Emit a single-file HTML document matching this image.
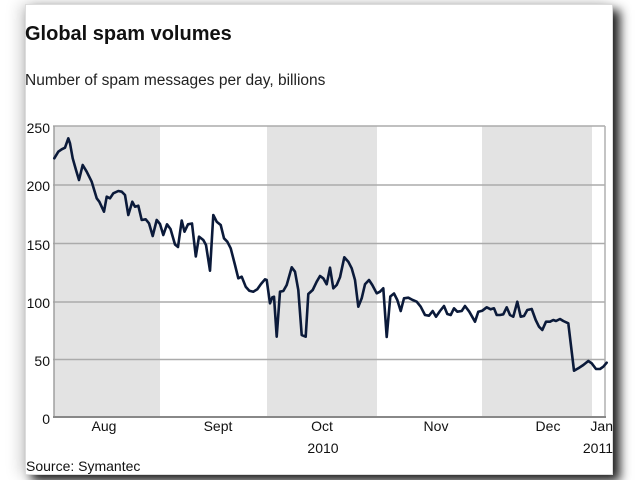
<!DOCTYPE html>
<html>
<head>
<meta charset="utf-8">
<style>
  html, body { margin:0; padding:0; width:640px; height:480px; overflow:hidden; background:#ffffff; }
  .card {
    position:absolute; left:25px; top:4px; width:588px; height:471px;
    background:#ffffff; border:1px solid #dcdcdc; box-sizing:border-box;
    box-shadow: 7px 6px 10px rgba(0,0,0,0.88), -5px 0 14px rgba(0,0,0,0.18);
  }
  svg { position:absolute; left:0; top:0; }
  text { font-family:"Liberation Sans", Arial, sans-serif; }
</style>
</head>
<body>
<div class="card"></div>
<svg width="640" height="480" viewBox="0 0 640 480" xmlns="http://www.w3.org/2000/svg">
  <!-- Title & subtitle -->
  <text x="25" y="40" font-size="20" font-weight="bold" fill="#111">Global spam volumes</text>
  <text x="25" y="85" font-size="15.5" fill="#222">Number of spam messages per day, billions</text>

  <!-- Month bands -->
  <rect x="54" y="126" width="106" height="291" fill="#e3e3e3"/>
  <rect x="267" y="126" width="110" height="291" fill="#e3e3e3"/>
  <rect x="482" y="126" width="110" height="291" fill="#e3e3e3"/>

  <!-- Gridlines -->
  <g stroke="#ababab" stroke-width="1.5">
    <line x1="53" y1="126" x2="605" y2="126"/>
    <line x1="53" y1="185" x2="605" y2="185"/>
    <line x1="53" y1="243.5" x2="605" y2="243.5"/>
    <line x1="53" y1="302" x2="605" y2="302"/>
    <line x1="53" y1="359.5" x2="605" y2="359.5"/>
  </g>
  <line x1="54" y1="126" x2="54" y2="418" stroke="#a0a0a0" stroke-width="1.5"/>
  <line x1="605" y1="126" x2="605" y2="418" stroke="#b0b0b0" stroke-width="1.5"/>
  <line x1="53" y1="417" x2="606" y2="417" stroke="#888" stroke-width="2"/>

  <!-- Y labels -->
  <g font-size="14" fill="#111" text-anchor="end">
    <text x="50" y="133">250</text>
    <text x="50" y="191">200</text>
    <text x="50" y="250">150</text>
    <text x="50" y="308">100</text>
    <text x="50" y="366">50</text>
    <text x="50" y="424">0</text>
  </g>

  <!-- X labels -->
  <g font-size="14" fill="#111" text-anchor="middle">
    <text x="104" y="431">Aug</text>
    <text x="218" y="431">Sept</text>
    <text x="322" y="431">Oct</text>
    <text x="436" y="431">Nov</text>
    <text x="548" y="431">Dec</text>
    <text x="613" y="431" text-anchor="end">Jan</text>
    <text x="323" y="453">2010</text>
    <text x="613" y="453" text-anchor="end">2011</text>
  </g>
  <text x="26" y="471" font-size="14" fill="#111">Source: Symantec</text>

  <!-- Series -->
  <polyline fill="none" stroke="#0b1a3a" stroke-width="2.6" stroke-linejoin="round" stroke-linecap="round"
    points="54.3,158.3 58.3,151.7 61.7,149.3 65,147.7 68.3,138.3 70,143.3 72.7,158.3 76,170 79,180 82.7,165 86.7,171.7 91.7,181.7 96.7,198.3 99.3,201.7 104,211.7 106.7,196.7 110,198.3 113.3,193.3 118.3,191 121.7,191.7 125,195 128.3,215 132.3,201.7 135,206.7 138.3,205.7 141.7,220 145.7,219.3 149,223.3 152.7,236 156.7,220 160,224 163.3,235 167,224.3 170.5,229 175,244.5 178,247 181.7,220.5 184.5,231.7 188,224.3 192,223.5 195.8,256.5 199,236.7 203.3,240 206,245 210,270.7 213.3,215 216.7,221.7 220.7,225 224,238.3 227.3,241.7 230.7,248.3 235,265 238.3,278.3 241.7,276.7 245.7,286.7 249.3,290.7 253.3,291.7 257.3,289.3 261,284 265,279.3 266.7,280 270,303.3 272.3,297.3 274,296.7 276.7,336.7 280,291.7 283.3,291 286.7,285 291.7,267.3 295,271.7 298.3,290 301.7,335 305.7,336.7 308.3,294 312.7,290 316.7,281.7 320,276 323.3,278.3 326.7,284.3 330,267.7 333.3,288.3 336.7,285 340,277.3 344.3,257.3 348.3,261.7 351.7,268.3 355,280 358.3,306.7 361.7,298.3 365,284.3 369,280 372.3,285 376.7,293.3 380,291.7 383.3,288.3 386.7,337 390.3,296.5 394,293.5 397.3,300 400.7,311 404,298.3 408.3,297.7 412.7,300 416.7,301.7 420.7,306.7 425,315 429,315.7 432.7,311 436,316.7 440,311 444,306 447.3,314 450.7,315 454,308.3 457.3,311.7 461.7,311 465,306 469.3,311.7 475,321.7 478.3,311.7 482.3,310.7 486.7,307.3 490.7,309.3 494,308.3 496.7,315 500,315 503.3,314.3 506.7,307.3 510,315 513.3,316.7 517.3,301.7 520.7,316.7 524,316 527.3,310 531.7,309 535.7,320 539,326.7 542.3,330 546,321.7 550,321.7 553.3,320 556,321 560,319 563.3,321 568.3,323.3 574,370.7 578.3,368.3 583.3,365 588.3,361 591.7,363.3 596,369 600,369 603.3,366.7 606.7,362.7"/>
</svg>
</body>
</html>
